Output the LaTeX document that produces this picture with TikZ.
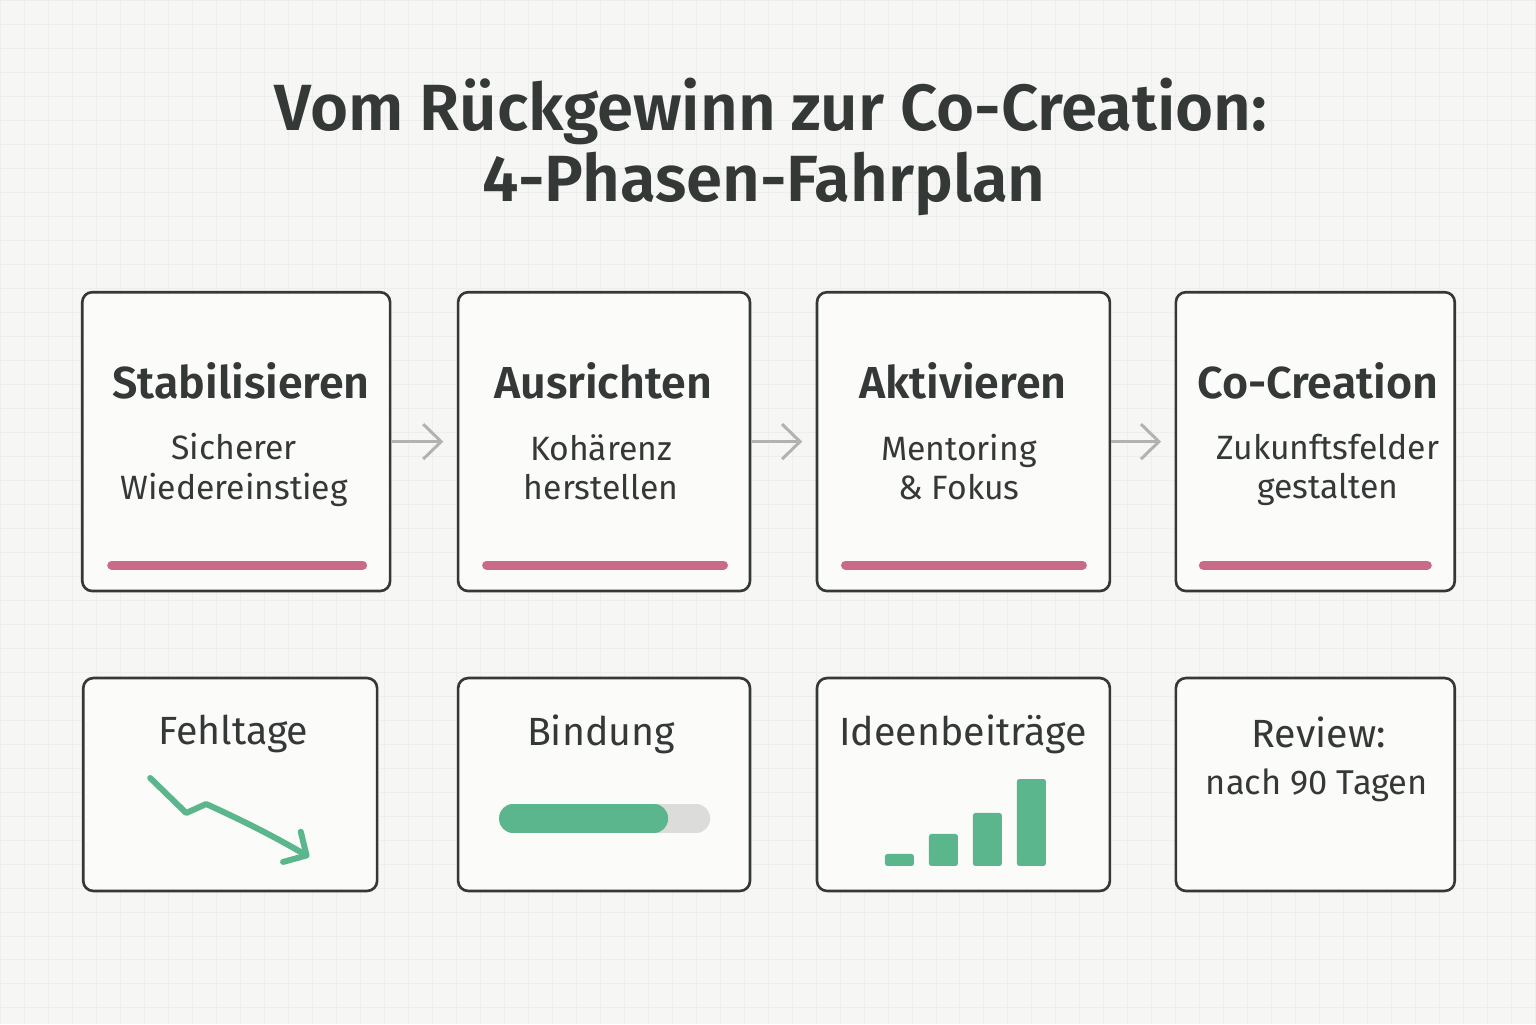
\documentclass[tikz,border=0pt]{standalone}
\usepackage{fontspec}
\setmainfont{Fira Sans}[BoldFont={Fira Sans SemiBold}]
\usetikzlibrary{arrows.meta}
\definecolor{ink}{HTML}{343837}
\definecolor{bg}{HTML}{F6F6F4}
\definecolor{gridc}{HTML}{EEEEEC}
\definecolor{card}{HTML}{FBFBFA}
\definecolor{rose}{HTML}{C96A8A}
\definecolor{mint}{HTML}{5BB68D}
\definecolor{track}{HTML}{DCDCDA}
\definecolor{flowc}{HTML}{B2B2B0}
\tikzset{
  phase/.style={draw=ink,line width=1.5pt,fill=card,rounded corners=0.2cm,minimum height=5.98cm,inner sep=0pt},
  kpi/.style={draw=ink,line width=1.5pt,fill=card,rounded corners=0.2cm,minimum height=4.26cm,inner sep=0pt},
  head/.style={text=ink,font=\bfseries\fontsize{25.5}{28}\selectfont},
  sub/.style={text=ink,align=center,font=\fontsize{19.2}{22.5}\selectfont},
  label/.style={text=ink,font=\fontsize{22.4}{25}\selectfont}
}
\tikzset{
  flow/.style={draw=flowc,line width=1.7pt,-{Straight Barb[length=0.36cm,width=0.7cm]},shorten >=0.27cm},
  bar/.style={line width=0.18cm,line cap=round,draw=rose}
}
\begin{document}
\begin{tikzpicture}[x=0.02cm,y=-0.02cm]
\fill[bg](0,0)rectangle(1536,1024);
\draw[gridc,line width=0.3pt,step=0.48cm](0,0)grid(1536,1024);
\useasboundingbox(0,0)rectangle(1536,1024);
%title
\node[text=ink,font=\bfseries\fontsize{37.2}{40}\selectfont](t1)at(771,111){Vom Rückgewinn zur Co-Creation:};
\node[text=ink,font=\bfseries\fontsize{37.2}{40}\selectfont](t2)at(764,184){4-Phasen-Fahrplan};
%phases
\node[phase,minimum width=6.16cm](p1)at(236,441.5){};
\node[phase,minimum width=5.84cm](p2)at(604,441.5){};
\node[phase,minimum width=5.86cm](p3)at(963.5,441.5){};
\node[phase,minimum width=5.58cm](p4)at(1315.5,441.5){};
\node[head](h1)at(241,381){Stabilisieren};
\node[head](h2)at(603,381){Ausrichten};
\node[head](h3)at(963,381){Aktivieren};
\node[head](h4)at(1318,381){Co-Creation};
\node[sub](s1)at(234,470){Sicherer\\Wiedereinstieg};
\node[sub](s2)at(601,467){Kohärenz\\herstellen};
\node[sub](s3)at(959,467){Mentoring\\\& Fokus};
\node[sub](s4)at(1328,470){Zukunftsfelder\\gestalten};
\draw[bar](111.5,565)--(362.5,565);
\draw[bar](486.5,565)--(723.5,565);
\draw[bar](845.5,565)--(1082.5,565);
\draw[bar](1203.5,565)--(1427.5,565);
\draw[flow](p1)--(p2);
\draw[flow](p2)--(p3);
\draw[flow](p3)--(p4);
%kpis
\node[kpi,minimum width=5.88cm](k1)at(230,784.5){};
\node[kpi,minimum width=5.84cm](k2)at(604,784.5){};
\node[kpi,minimum width=5.86cm](k3)at(963.5,784.5){};
\node[kpi,minimum width=5.58cm](k4)at(1315.5,784.5){};
\node[label](l1)at(233,734){Fehltage};
\node[label](l2)at(601,734){Bindung};
\node[label](l3)at(963,734){Ideenbeiträge};
\node[label](l4)at(1319,732){Review:};
\node[sub,font=\fontsize{19.6}{22.5}\selectfont](l5)at(1317,785){nach 90 Tagen};
%trend
\draw[mint,line width=0.12cm,line cap=round,line join=round,-{Straight Barb[length=0.34cm,width=0.7cm,line cap=round,line join=round]}]
  (150,778)--(186,813)--(206,804)..controls(250,824)and(280,840)..(309,857);
%progress
\fill[track,rounded corners=0.28cm](499,804)rectangle(710,833);
\fill[mint,rounded corners=0.28cm](499,804)rectangle(668,833);
%bars
\foreach \xa/\ya in {885/854,929/834,973/813,1017/779}
  \fill[mint,rounded corners=0.05cm](\xa,\ya)rectangle(\xa+29,866);
\end{tikzpicture}
\end{document}
